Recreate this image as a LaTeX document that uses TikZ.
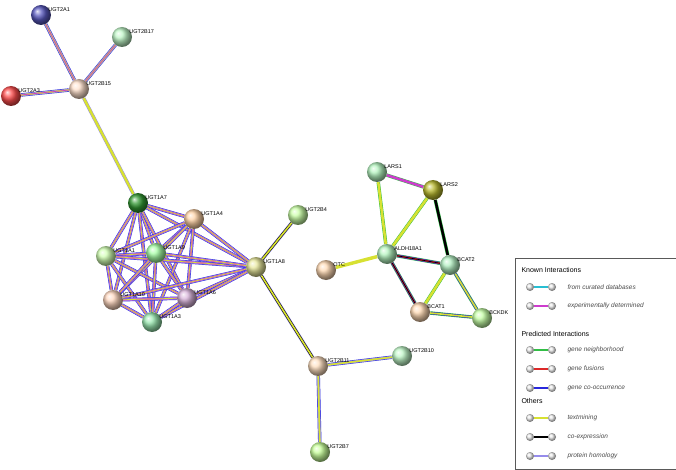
\documentclass[tikz,border=0pt]{standalone}
\usepackage{fontspec}
\setmainfont{Liberation Sans}
\usetikzlibrary{backgrounds}
\definecolor{homol}{RGB}{150,140,235}
\definecolor{txtm}{RGB}{215,225,50}
\definecolor{cooc}{RGB}{40,40,220}
\definecolor{expd}{RGB}{205,60,205}
\definecolor{curd}{RGB}{40,190,210}
\definecolor{neigh}{RGB}{50,190,70}
\definecolor{fusn}{RGB}{220,40,40}
\tikzset{
  gene/.style={circle, minimum size=20pt, inner sep=0pt, ball color=#1},
  glabel/.style={font=\fontsize{5.5}{6}\selectfont},
  legline/.style={line width=1.6pt},
  legball/.style={circle, minimum size=8pt, inner sep=0pt, ball color=gray!15},
}
% striped connector: first colour widest
\newcommand\link[3]{\foreach[count=\i] \c in {#3}{\pgfmathsetmacro\w{(4.8-\i)*0.9}\draw[\c, line width=\w pt] (#1) -- (#2);}}
\begin{document}
\begin{tikzpicture}[x=1pt, y=-1pt]
\useasboundingbox (0,0) rectangle (676,470);
% proteins
\node[gene=blue!45!gray!90] (A1) at (41,15) {};
\node[gene=teal!25!green!25] (B17) at (122,37) {};
\node[gene=red!20!orange!20] (B15) at (79,89) {};
\node[gene=red!70] (A3) at (11,96) {};
\node[gene=green!50!black!80] (1A7) at (138,203) {};
\node[gene=orange!35] (1A4) at (194,219) {};
\node[gene=yellow!40!green!30] (1A1) at (106,256) {};
\node[gene=green!35] (1A9) at (156,253) {};
\node[gene=yellow!40!olive!30] (1A8) at (256,267) {};
\node[gene=red!25!orange!25] (1A10) at (113,300) {};
\node[gene=blue!35!purple!30] (1A6) at (187,298) {};
\node[gene=teal!45!green!40] (1A3) at (152,322) {};
\node[gene=yellow!40!green!35] (B4) at (298,215) {};
\node[gene=orange!25] (B11) at (318,366) {};
\node[gene=teal!25!green!25] (B10) at (402,356) {};
\node[gene=yellow!45!green!40] (B7) at (320,452) {};
\node[gene=teal!30!green!30] (L1) at (377,172) {};
\node[gene=olive!55] (L2) at (433,190) {};
\node[gene=teal!30!green!30] (ALDH) at (387,254) {};
\node[gene=teal!40!green!30] (BC2) at (450,265) {};
\node[gene=orange!30] (OTC) at (326,270) {};
\node[gene=orange!30] (BC1) at (420,312) {};
\node[gene=yellow!35!green!35] (BCK) at (482,318) {};
% labels
\foreach \n/\t in {A1/UGT2A1, B17/UGT2B17, B15/UGT2B15, A3/UGT2A3, 1A7/UGT1A7, 1A4/UGT1A4,
  1A1/UGT1A1, 1A9/UGT1A9, 1A8/UGT1A8, 1A10/UGT1A10, 1A6/UGT1A6, 1A3/UGT1A3, B4/UGT2B4,
  B11/UGT2B11, B10/UGT2B10, B7/UGT2B7, L1/LARS1, L2/LARS2, ALDH/ALDH18A1, BC2/BCAT2,
  OTC/OTC, BC1/BCAT1, BCK/BCKDK}
  \node[glabel, anchor=south west, inner sep=0pt] at ([xshift=0pt,yshift=-4pt]\n.north east) {\t};
% connectors
\begin{scope}[on background layer]
\link{A1}{B15}{cooc,homol,txtm,expd}
\link{B17}{B15}{cooc,homol,txtm,expd}
\link{A3}{B15}{cooc,homol,txtm,expd}
\link{B15}{1A7}{homol,txtm}
\foreach \a/\b in {1A7/1A4,1A7/1A1,1A7/1A9,1A7/1A8,1A7/1A10,1A7/1A6,1A7/1A3,
  1A4/1A1,1A4/1A9,1A4/1A8,1A4/1A10,1A4/1A6,1A4/1A3,1A1/1A9,1A1/1A8,1A1/1A10,1A1/1A6,1A1/1A3,
  1A9/1A8,1A9/1A10,1A9/1A6,1A9/1A3,1A8/1A10,1A8/1A6,1A8/1A3,1A10/1A6,1A10/1A3,1A6/1A3}
  {\link{\a}{\b}{cooc,homol,expd,txtm}}
\link{1A8}{B4}{homol,black,txtm}
\link{1A8}{B11}{homol,black,txtm}
\link{B11}{B10}{cooc,homol,txtm}
\link{B11}{B7}{cooc,homol,txtm}
\link{L1}{L2}{neigh,expd}
\link{L1}{ALDH}{neigh,txtm}
\link{L2}{ALDH}{neigh,txtm}
\link{L2}{BC2}{neigh,black}
\link{OTC}{ALDH}{txtm}
\link{ALDH}{BC2}{neigh,cooc,fusn,black}
\link{ALDH}{BC1}{neigh,cooc,fusn,black}
\link{BC2}{BC1}{neigh,txtm}
\link{BC2}{BCK}{neigh,cooc,txtm}
\link{BC1}{BCK}{neigh,cooc,txtm}
\end{scope}
% legend
\node[draw=gray!70!black, fill=white, minimum width=161pt, minimum height=211pt, anchor=north west, inner sep=0pt] (legend) at (515,258) {};
\node[anchor=west, font=\fontsize{7}{8}\selectfont] (kn) at (518,270) {Known Interactions};
\node[anchor=west, font=\fontsize{7}{8}\selectfont] (pr) at (518,334) {Predicted Interactions};
\node[anchor=west, font=\fontsize{7}{8}\selectfont] (ot) at (518,401) {Others};
\foreach \y/\c/\t in {287/curd/from curated databases, 306/expd/experimentally determined,
  350/neigh/gene neighborhood, 369/fusn/gene fusions, 388/cooc/gene co-occurrence,
  418/txtm/textmining, 437/black/co-expression, 456/homol/protein homology}{
  \node[legball] (l\y) at (530,\y) {};
  \node[legball] (r\y) at (552,\y) {};
  \draw[\c, legline] (l\y) -- (r\y);
  \node[anchor=west, font=\fontsize{6.5}{7}\selectfont\itshape, text=gray!60!black] (t\y) at (564,\y) {\t};
}
\end{tikzpicture}
\end{document}
